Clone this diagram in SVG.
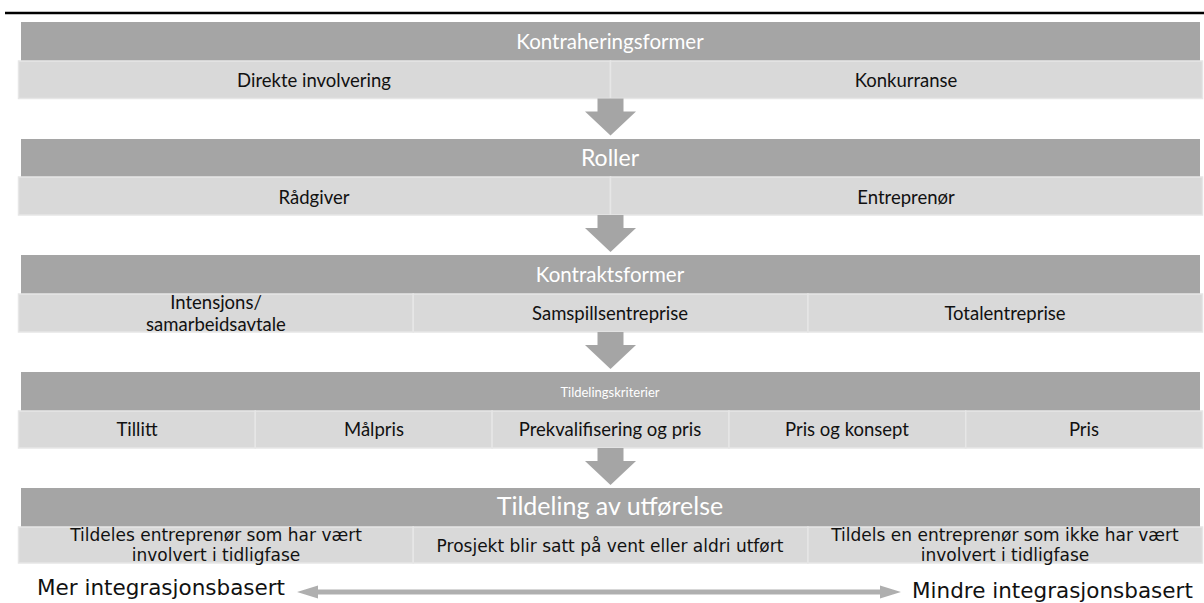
<svg xmlns="http://www.w3.org/2000/svg" width="1204" height="603" viewBox="0 0 1204 603">
  <style>
    .hdr { fill: #a5a5a5; }
    .cell { fill: #d9d9d9; stroke: #e6e6e6; stroke-width: 1.5; }
    .ht { font-family: Lato, "Liberation Sans", sans-serif; fill: #ffffff; text-anchor: middle; }
    .ct { font-family: Lato, "Liberation Sans", sans-serif; font-size: 18.5px; fill: #111111; text-anchor: middle; }
    .vt { font-family: "DejaVu Sans", Verdana, sans-serif; font-size: 17px; fill: #111111; text-anchor: middle; }
    .lt { font-family: "DejaVu Sans", Verdana, sans-serif; font-size: 21.5px; fill: #111111; }
    .flow { fill: #a5a5a5; }
  </style>
  <defs>
    <!-- downward block arrow between bands, origin at top centre -->
    <path id="down" d="M -13 0 H 13 V 13 H 25.5 L 0 37 L -25.5 13 H -13 Z"/>
  </defs>
  <rect width="1204" height="603" fill="#ffffff"/>
  <line x1="5" y1="13" x2="1204" y2="13" stroke="#000000" stroke-width="2.5"/>

  <g id="band-kontraheringsformer">
    <rect class="hdr" x="21" y="22" width="1179" height="39"/>
    <text class="ht" x="610" y="49" font-size="20.5">Kontraheringsformer</text>
    <rect class="cell" x="18.5" y="61" width="592" height="37.5"/>
    <rect class="cell" x="610.5" y="61" width="592" height="37.5"/>
    <text class="ct" x="314" y="87">Direkte involvering</text>
    <text class="ct" x="906" y="87">Konkurranse</text>
  </g>

  <g id="band-roller">
    <rect class="hdr" x="21" y="139" width="1179" height="38"/>
    <text class="ht" x="610" y="166" font-size="23">Roller</text>
    <rect class="cell" x="18.5" y="177" width="592" height="38"/>
    <rect class="cell" x="610.5" y="177" width="592" height="38"/>
    <text class="ct" x="314" y="204">Rådgiver</text>
    <text class="ct" x="906" y="204">Entreprenør</text>
  </g>

  <g id="band-kontraktsformer">
    <rect class="hdr" x="21" y="255" width="1179" height="39"/>
    <text class="ht" x="610" y="282" font-size="20.5">Kontraktsformer</text>
    <rect class="cell" x="18.5" y="294" width="394.7" height="38"/>
    <rect class="cell" x="413.2" y="294" width="394.7" height="38"/>
    <rect class="cell" x="807.9" y="294" width="394.6" height="38"/>
    <text class="ct" x="216" y="309">Intensjons/</text>
    <text class="ct" x="216" y="331">samarbeidsavtale</text>
    <text class="ct" x="610" y="320">Samspillsentreprise</text>
    <text class="ct" x="1005" y="320">Totalentreprise</text>
  </g>

  <g id="band-tildelingskriterier">
    <rect class="hdr" x="21" y="372" width="1179" height="39"/>
    <text class="ht" x="610" y="397" font-size="13">Tildelingskriterier</text>
    <rect class="cell" x="18.5" y="411" width="236.8" height="37"/>
    <rect class="cell" x="255.3" y="411" width="236.8" height="37"/>
    <rect class="cell" x="492.1" y="411" width="236.8" height="37"/>
    <rect class="cell" x="728.9" y="411" width="236.8" height="37"/>
    <rect class="cell" x="965.7" y="411" width="236.8" height="37"/>
    <text class="ct" x="137" y="436">Tillitt</text>
    <text class="ct" x="374" y="436">Målpris</text>
    <text class="ct" x="610" y="436">Prekvalifisering og pris</text>
    <text class="ct" x="847" y="436">Pris og konsept</text>
    <text class="ct" x="1084" y="436">Pris</text>
  </g>

  <g id="band-tildeling">
    <rect class="hdr" x="21" y="488" width="1179" height="39"/>
    <text class="ht" x="610" y="515" font-size="25">Tildeling av utførelse</text>
    <rect class="cell" x="18.5" y="527" width="394.7" height="36"/>
    <rect class="cell" x="413.2" y="527" width="394.7" height="36"/>
    <rect class="cell" x="807.9" y="527" width="394.6" height="36"/>
    <text class="vt" x="216" y="541">Tildeles entreprenør  som har vært</text>
    <text class="vt" x="216" y="561">involvert i tidligfase</text>
    <text class="vt" x="610" y="552">Prosjekt blir satt på vent eller aldri utført</text>
    <text class="vt" x="1005" y="541">Tildels en entreprenør som ikke har vært</text>
    <text class="vt" x="1005" y="561">involvert i tidligfase</text>
  </g>

  <g id="connectors">
    <use href="#down" class="flow" x="610.5" y="98.5"/>
    <use href="#down" class="flow" x="610.5" y="215"/>
    <use href="#down" class="flow" x="610.5" y="332"/>
    <use href="#down" class="flow" x="610.5" y="448"/>
    <!-- integration scale: two-headed arrow -->
    <path d="M 297 592 L 318 585.5 V 589.5 H 880 V 585.5 L 901 592 L 880 598.5 V 594.5 H 318 V 598.5 Z" fill="#afafaf"/>
  </g>

  <g id="scale-labels">
    <text class="lt" x="37" y="595">Mer integrasjonsbasert</text>
    <text class="lt" x="912" y="597.5">Mindre integrasjonsbasert</text>
  </g>
</svg>
